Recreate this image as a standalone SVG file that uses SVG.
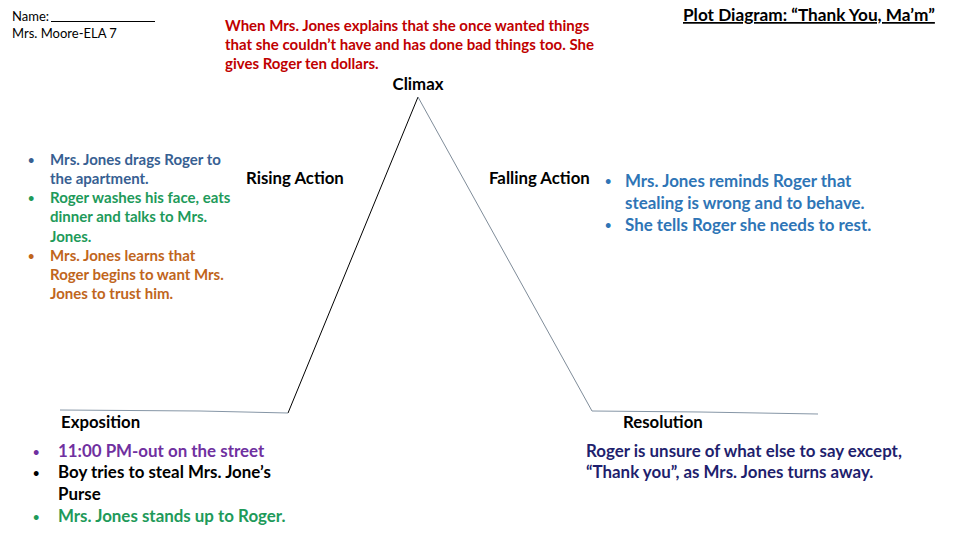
<svg xmlns="http://www.w3.org/2000/svg" width="960" height="540" viewBox="0 0 960 540">
<style>
text{font-family:Lato,"Open Sans","Liberation Sans",sans-serif;font-weight:bold}
.hd{font-size:16.8px;fill:#000}
.sm{font-size:13px;fill:#000;font-weight:normal}
.red{font-size:15px;fill:#c00000}
.lb{font-size:15px}
.blue1{fill:#376092}
.grn{fill:#1e9a5a}
.org{fill:#c0651c}
.fb{font-size:16.9px;fill:#2e75b6}
.ex{font-size:16.9px}
.pur{fill:#7030a0}
.navy{font-size:16.9px;fill:#1f1f6e}
.bu{font-size:11px}
</style>
<rect width="960" height="540" fill="#fff"/>
<g id="header">
<text class="sm" x="12" y="21">Name:</text>
<line x1="51" y1="21.5" x2="155" y2="21.5" stroke="#000" stroke-width="1"/>
<text class="sm" x="12" y="38">Mrs. Moore-ELA 7</text>
<text class="hd" x="683" y="21" style="font-size:17.2px" text-decoration="underline">Plot Diagram: “Thank You, Ma’m”</text>
</g>
<g id="connectors">
<line x1="418" y1="97" x2="288" y2="413" stroke="#000" stroke-width="1"/>
<line x1="418" y1="97" x2="592" y2="411" stroke="#7f8c99" stroke-width="1"/>
<polyline points="60,410 200,411 288,413" fill="none" stroke="#8696a6" stroke-width="1"/>
<polyline points="592,411 700,412 818,414" fill="none" stroke="#8696a6" stroke-width="1"/>
</g>
<g id="climax">
<text class="red" x="225" y="31">When Mrs. Jones explains that she once wanted things</text>
<text class="red" x="225" y="50">that she couldn’t have and has done bad things too. She</text>
<text class="red" x="225" y="69">gives Roger ten dollars.</text>
<text class="hd" x="418" y="90" text-anchor="middle">Climax</text>
</g>
<g id="rising">
<text class="hd" x="246" y="184">Rising Action</text>
<g class="lb">
<text class="blue1 bu" x="28" y="164">•</text>
<text class="blue1" x="50" y="165">Mrs. Jones drags Roger to</text>
<text class="blue1" x="50" y="184">the apartment.</text>
<text class="grn bu" x="28" y="202">•</text>
<text class="grn" x="50" y="203">Roger washes his face, eats</text>
<text class="grn" x="50" y="222">dinner and talks to Mrs.</text>
<text class="grn" x="50" y="242">Jones.</text>
<text class="org bu" x="28" y="260">•</text>
<text class="org" x="50" y="261">Mrs. Jones learns that</text>
<text class="org" x="50" y="280">Roger begins to want Mrs.</text>
<text class="org" x="50" y="299">Jones to trust him.</text>
</g>
</g>
<g id="falling">
<text class="hd" x="489" y="184">Falling Action</text>
<text class="fb bu" x="605" y="185">•</text>
<text class="fb" x="625" y="187">Mrs. Jones reminds Roger that</text>
<text class="fb" x="625" y="209">stealing is wrong and to behave.</text>
<text class="fb bu" x="605" y="229">•</text>
<text class="fb" x="625" y="231">She tells Roger she needs to rest.</text>
</g>
<g id="exposition">
<text class="hd" x="61" y="428">Exposition</text>
<g class="ex">
<text class="pur bu" x="33" y="456">•</text>
<text class="pur" x="58" y="457">11:00 PM-out on the street</text>
<text class="bu" x="33" y="477" fill="#000">•</text>
<text x="58" y="478" fill="#000">Boy tries to steal Mrs. Jone’s</text>
<text x="58" y="500" fill="#000">Purse</text>
<text class="grn bu" x="33" y="521">•</text>
<text class="grn" x="58" y="522">Mrs. Jones stands up to Roger.</text>
</g>
</g>
<g id="resolution">
<text class="hd" x="623" y="428">Resolution</text>
<text class="navy" x="586" y="457">Roger is unsure of what else to say except,</text>
<text class="navy" x="586" y="478">“Thank you”, as Mrs. Jones turns away.</text>
</g>
</svg>
